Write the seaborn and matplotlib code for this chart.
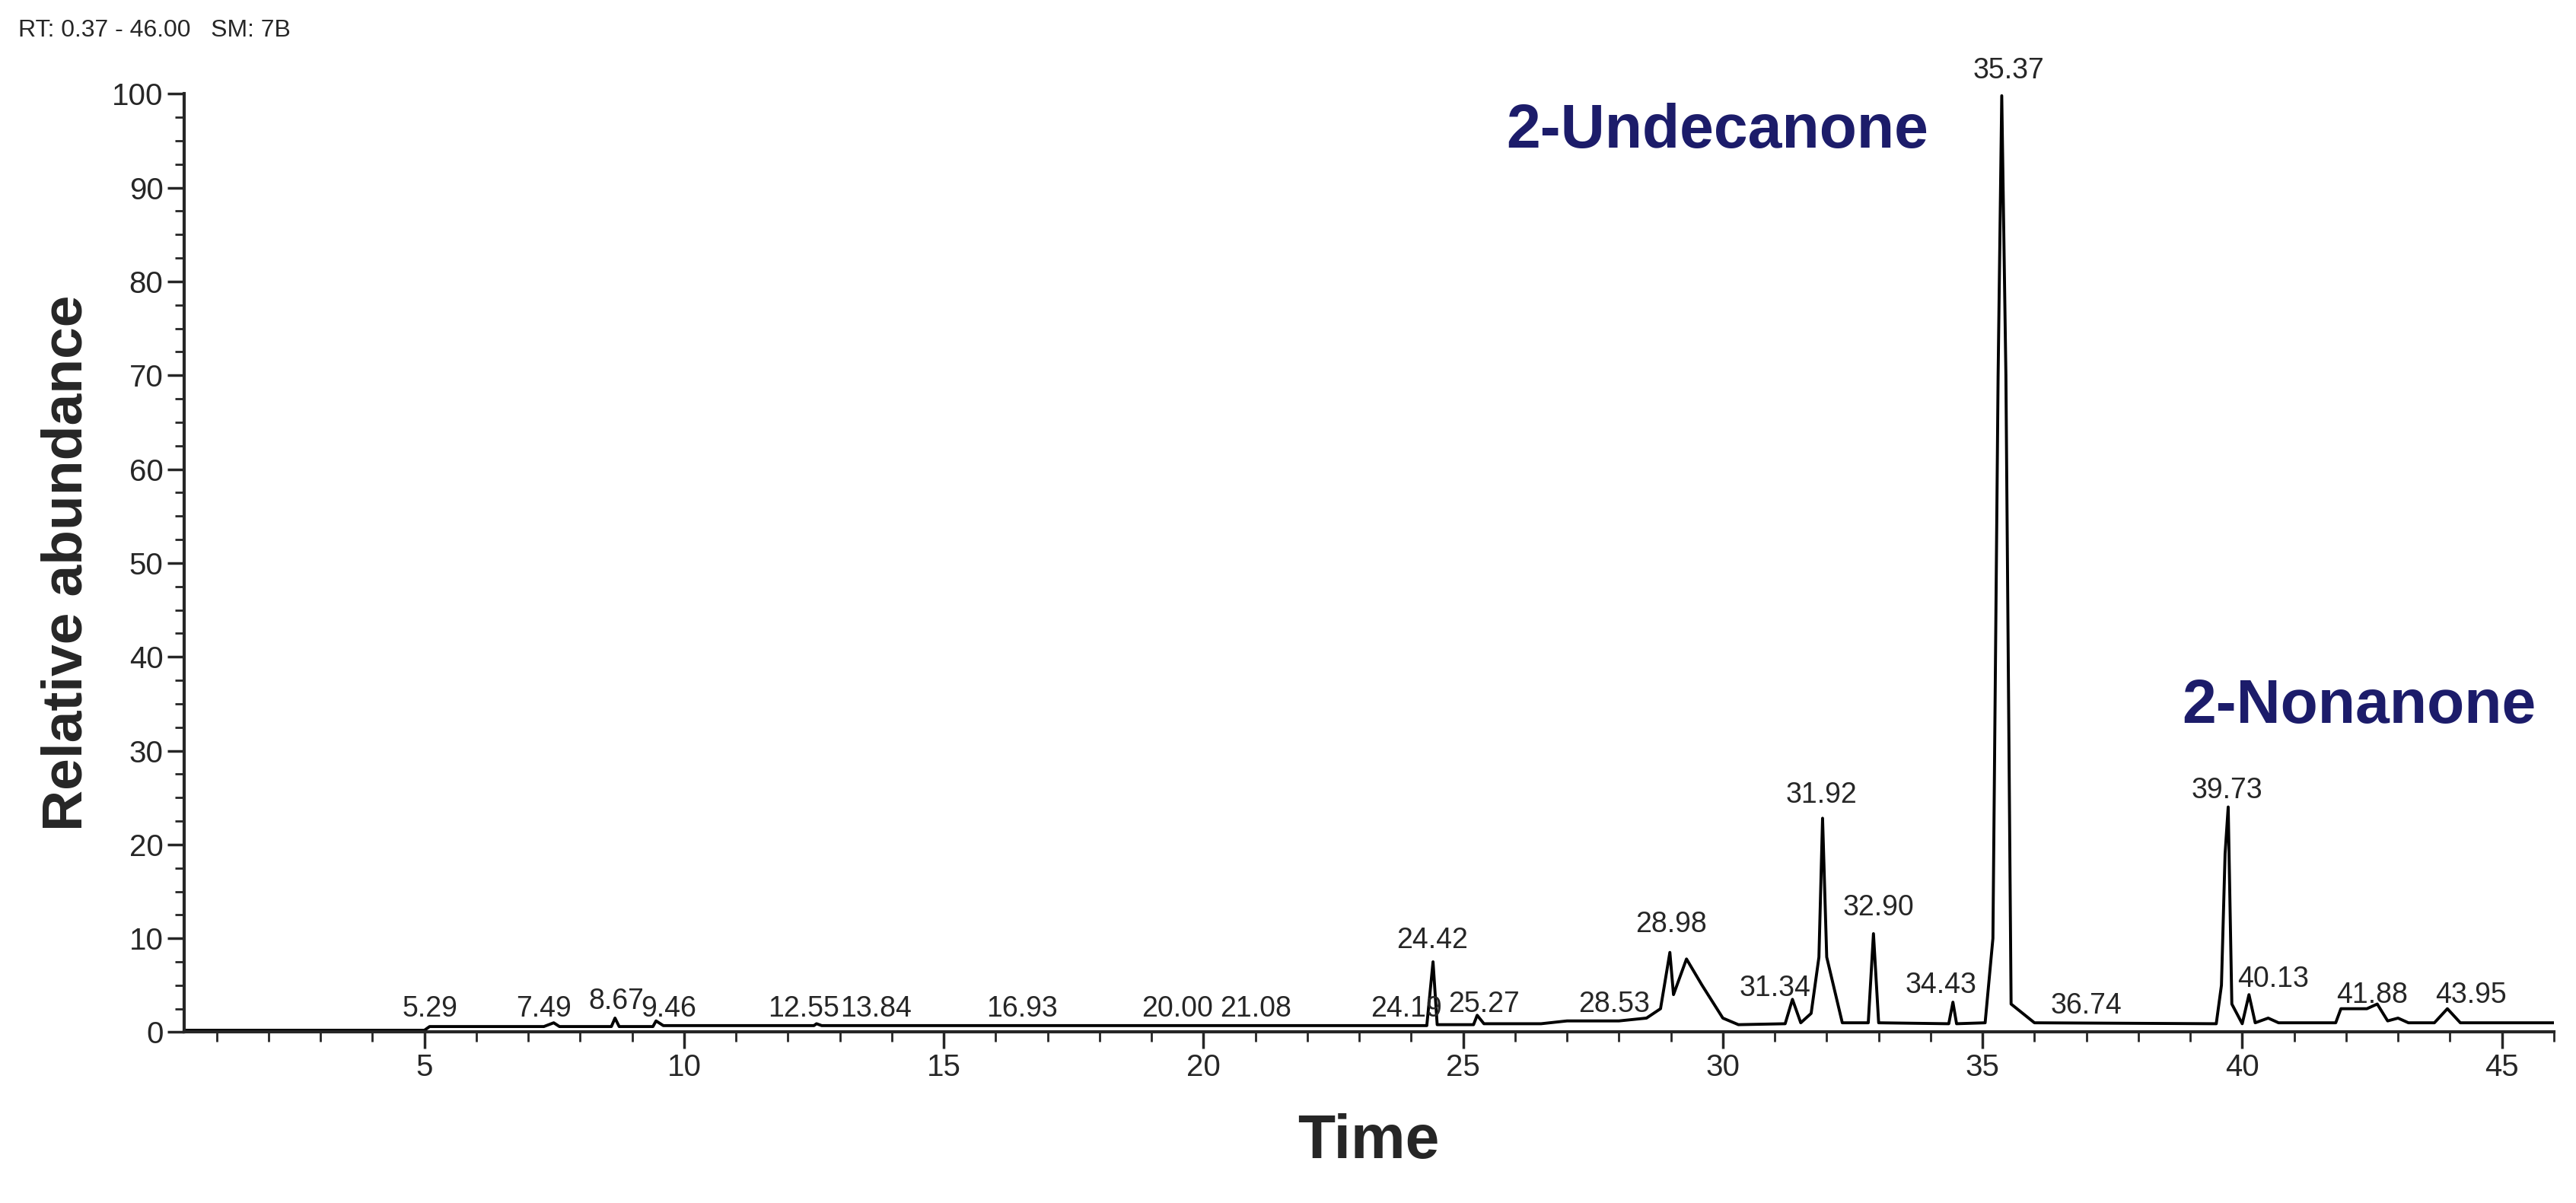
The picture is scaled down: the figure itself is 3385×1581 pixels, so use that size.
import matplotlib
matplotlib.use("Agg")
import matplotlib.pyplot as plt
from matplotlib.ticker import MultipleLocator
import pandas as pd
import seaborn as sns

# chromatogram trace, vertices (time, relative abundance)
time = [0.37, 5.0, 5.1, 7.3, 7.49, 7.6, 8.6, 8.67, 8.75, 9.4, 9.46, 9.6, 12.5, 12.55, 12.65,
        24.3, 24.42, 24.5, 25.2, 25.27, 25.4, 26.5, 27.0, 28.0, 28.53, 28.8, 28.98, 29.05, 29.3,
        29.6, 30.0, 30.3, 31.2, 31.34, 31.5, 31.7, 31.85, 31.92, 32.0, 32.3, 32.8, 32.9, 33.0,
        34.35, 34.43, 34.5, 35.05, 35.2, 35.3, 35.37, 35.45, 35.55, 36.0, 39.5, 39.6, 39.67,
        39.73, 39.8, 40.0, 40.13, 40.25, 40.5, 40.7, 41.8, 41.9, 42.4, 42.6, 42.8, 43.0, 43.2,
        43.7, 43.95, 44.2, 46.0]
abundance = [0.2, 0.2, 0.6, 0.6, 1.0, 0.6, 0.6, 1.5, 0.6, 0.6, 1.2, 0.7, 0.7, 0.9, 0.7,
             0.7, 7.5, 0.8, 0.8, 1.8, 0.9, 0.9, 1.2, 1.2, 1.5, 2.5, 8.5, 4.0, 7.8,
             5.0, 1.5, 0.8, 0.9, 3.5, 1.0, 2.0, 8.0, 22.8, 8.0, 1.0, 1.0, 10.5, 1.0,
             0.9, 3.2, 0.9, 1.0, 10.0, 70.0, 99.8, 70.0, 3.0, 1.0, 0.9, 5.0, 19.0,
             24.0, 3.0, 0.9, 4.0, 1.0, 1.5, 1.0, 1.0, 2.5, 2.5, 3.0, 1.2, 1.5, 1.0,
             1.0, 2.5, 1.0, 1.0]

# peak retention-time labels and the height their text sits at
peak_labels = ["5.29", "7.49", "8.67", "9.46", "12.55", "13.84", "16.93", "20.00", "21.08",
               "24.19", "24.42", "25.27", "28.53", "28.98", "31.34", "31.92", "32.90",
               "34.43", "35.37", "36.74", "39.73", "40.13", "41.88", "43.95"]
peak_x = [5.1, 7.3, 8.7, 9.7, 12.3, 13.7, 16.5, 19.5, 21.0, 23.9, 24.4, 25.4, 27.9, 29.0,
          31.0, 31.9, 33.0, 34.2, 35.5, 37.0, 39.7, 40.6, 42.5, 44.4]
peak_y = [1.0, 1.0, 1.8, 1.0, 1.0, 1.0, 1.0, 1.0, 1.0, 1.0, 8.3, 1.5, 1.5, 10.0,
          3.2, 23.8, 11.8, 3.5, 101.0, 1.3, 24.3, 4.2, 2.5, 2.5]

compounds = ["2-Undecanone", "2-Nonanone"]
compound_x = [29.9, 42.25]
compound_y = [96.0, 34.7]

df = pd.DataFrame({"Time": time, "Abundance": abundance})

sns.set_style("ticks")
plt.rcParams["font.family"] = ["Liberation Sans", "DejaVu Sans"]

fig = plt.figure(figsize=(33.85, 15.81), dpi=100)
ax = fig.add_axes([0.0714, 0.142, 0.92, 0.780])
sns.lineplot(data=df, x="Time", y="Abundance", color="black", linewidth=2.8, ax=ax)

for lab, x, y in zip(peak_labels, peak_x, peak_y):
    ax.text(x, y, lab, ha="center", va="bottom", fontsize=27, clip_on=False)

for name, x, y in zip(compounds, compound_x, compound_y):
    ax.text(x, y, name, ha="center", va="center", fontsize=58, fontweight="bold",
            color="#1c1c6a")

ax.set_xlim(0.37, 46.0)
ax.set_ylim(0, 100)
ax.xaxis.set_minor_locator(MultipleLocator(1))
ax.yaxis.set_major_locator(MultipleLocator(10))
ax.yaxis.set_minor_locator(MultipleLocator(2.5))
ax.set_xticks([5, 10, 15, 20, 25, 30, 35, 40, 45])
ax.tick_params(axis="both", which="major", labelsize=29, length=16, width=2.5, direction="out")
ax.tick_params(axis="both", which="minor", length=9, width=2.0, direction="out")
for s in ["top", "right"]:
    ax.spines[s].set_visible(False)
for s in ["left", "bottom"]:
    ax.spines[s].set_linewidth(3)

ax.set_xlabel("Time", fontsize=58, fontweight="bold", labelpad=30)
ax.set_ylabel("Relative abundance", fontsize=54, fontweight="bold", labelpad=18)
fig.text(0.007, 0.975, "RT: 0.37 - 46.00   SM: 7B", fontsize=23, va="center")

fig.savefig("out.png", dpi=100)
